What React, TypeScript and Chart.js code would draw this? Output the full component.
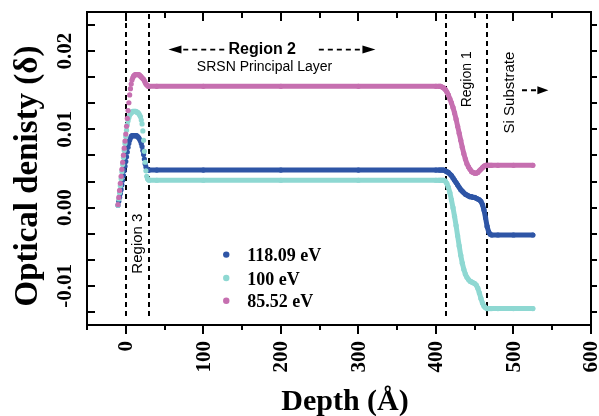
import React, { useEffect, useRef } from "react";
import { Chart, registerables } from "chart.js";

Chart.register(...registerables);

// Depth sampling (Å)
const DEPTH = [
  -10, -9, -8, -7, -6, -5, -4, -3, -2, -1, 0, 1, 2, 3, 4, 5, 6, 7, 8, 9, 10,
  11, 12, 13, 14, 15, 16, 17, 18, 19, 20, 21, 22, 23, 24, 25, 26, 27, 28, 29, 30,
  40, 100, 200, 300, 400,
  404, 406, 408, 410, 412, 414, 416, 418, 420, 422, 424, 426, 428, 430, 432, 434, 436, 438,
  440, 442, 444, 446, 448, 450, 452, 454, 456, 458, 460, 462, 464, 466, 468, 470, 472,
  480, 500, 525,
];

// Optical density, 118.09 eV
const E118 = [
  0.0003, 0.0008, 0.0013, 0.0018, 0.0023, 0.0029, 0.0035, 0.0041, 0.0047, 0.0053, 0.0059,
  0.0065, 0.0071, 0.0077, 0.0082, 0.0086, 0.0089, 0.0091, 0.0092, 0.0092, 0.0092,
  0.0092, 0.0092, 0.0092, 0.0092, 0.0091, 0.0090, 0.0089, 0.0087, 0.0085, 0.0082,
  0.0078, 0.0073, 0.0068, 0.0062, 0.0056, 0.0052, 0.0049, 0.0048, 0.0048, 0.0048,
  0.0048, 0.0048, 0.0048, 0.0048, 0.0048,
  0.0048, 0.0048, 0.0048, 0.0048, 0.0047, 0.0046, 0.0045, 0.0043, 0.0041, 0.0038,
  0.0035, 0.0032, 0.0029, 0.0026, 0.0023, 0.0021, 0.0019, 0.0017,
  0.0016, 0.0015, 0.0014, 0.0014, 0.0013, 0.0013, 0.0012, 0.0011, 0.0010, 0.0008,
  0.0004, -0.0003, -0.0013, -0.0024, -0.0031, -0.0034, -0.0035,
  -0.0035, -0.0035, -0.0035,
];

// Optical density, 100 eV
const E100 = [
  0.0003, 0.0011, 0.0019, 0.0028, 0.0037, 0.0046, 0.0055, 0.0064, 0.0073, 0.0082, 0.0091,
  0.0099, 0.0106, 0.0111, 0.0115, 0.0118, 0.0120, 0.0121, 0.0122, 0.0123, 0.0123,
  0.0123, 0.0123, 0.0123, 0.0122, 0.0122, 0.0121, 0.0120, 0.0118, 0.0116, 0.0112,
  0.0107, 0.0098, 0.0086, 0.0072, 0.0058, 0.0047, 0.0040, 0.0037, 0.0036, 0.0035,
  0.0035, 0.0035, 0.0035, 0.0035, 0.0035,
  0.0035, 0.0035, 0.0035, 0.0035, 0.0034, 0.0031, 0.0026, 0.0019, 0.0010, 0.0000,
  -0.0011, -0.0023, -0.0036, -0.0049, -0.0061, -0.0071, -0.0079, -0.0085,
  -0.0089, -0.0092, -0.0094, -0.0095, -0.0096, -0.0097, -0.0099, -0.0103, -0.0109, -0.0116,
  -0.0122, -0.0126, -0.0128, -0.0129, -0.0129, -0.0129, -0.0129,
  -0.0129, -0.0129, -0.0129,
];

// Optical density, 85.52 eV
const E85 = [
  0.0004, 0.0013, 0.0022, 0.0031, 0.0040, 0.0049, 0.0058, 0.0067, 0.0076, 0.0085, 0.0094,
  0.0104, 0.0114, 0.0124, 0.0134, 0.0144, 0.0152, 0.0158, 0.0163, 0.0166, 0.0168,
  0.0169, 0.0170, 0.0170, 0.0170, 0.0170, 0.0170, 0.0170, 0.0169, 0.0168, 0.0167,
  0.0166, 0.0165, 0.0164, 0.0162, 0.0160, 0.0158, 0.0157, 0.0156, 0.0155, 0.0155,
  0.0155, 0.0155, 0.0155, 0.0155, 0.0155,
  0.0155, 0.0155, 0.0154, 0.0153, 0.0151, 0.0148, 0.0144, 0.0139, 0.0134, 0.0128,
  0.0121, 0.0113, 0.0104, 0.0095, 0.0086, 0.0077, 0.0069, 0.0062,
  0.0056, 0.0052, 0.0049, 0.0046, 0.0045, 0.0044, 0.0044, 0.0045, 0.0047, 0.0049,
  0.0051, 0.0053, 0.0054, 0.0054, 0.0054, 0.0054, 0.0054,
  0.0054, 0.0054, 0.0054,
];

const SERIES_LABELS = ["118.09 eV", "100 eV", "85.52 eV"];
const SERIES_COLORS = ["#2E55A6", "#8ED8D2", "#C66FB0"];

const X_MAJOR_TICKS = [0, 100, 200, 300, 400, 500, 600];
const X_MINOR_TICKS = [-50, 50, 150, 250, 350, 450, 550];
const Y_LABEL_TICKS = [-0.01, 0, 0.01, 0.02];
const Y_TICK_LABELS = ["-0.01", "0.00", "0.01", "0.02"];
const Y_MINOR_TICKS = [-0.013333, -0.006667, -0.003333, 0.003333, 0.006667, 0.013333, 0.016667, 0.023333];

const REGION_LINES = [0, 30, 413, 466];

const X_TITLE = "Depth (Å)";
const Y_TITLE = "Optical denisty (δ)";
const REGION2 = "Region 2";
const REGION2_SUB = "SRSN Principal Layer";
const REGION1 = "Region 1";
const REGION3 = "Region 3";
const SUBSTRATE = "Si Substrate";

const SERIF = "'Liberation Serif', 'Times New Roman', serif";
const SANS = "'Liberation Sans', Arial, sans-serif";

function arrowHead(ctx: CanvasRenderingContext2D, tipX: number, y: number, dir: number, len: number, half: number) {
  ctx.beginPath();
  ctx.moveTo(tipX, y);
  ctx.lineTo(tipX - dir * len, y - half);
  ctx.lineTo(tipX - dir * len, y + half);
  ctx.closePath();
  ctx.fill();
}

function dashedArrow(ctx: CanvasRenderingContext2D, tailX: number, tipX: number, y: number, len: number, half: number) {
  const dir = tipX > tailX ? 1 : -1;
  ctx.save();
  ctx.setLineDash([5, 4]);
  ctx.lineWidth = 1.8;
  ctx.beginPath();
  ctx.moveTo(tailX, y);
  ctx.lineTo(tipX - dir * len, y);
  ctx.stroke();
  ctx.restore();
  arrowHead(ctx, tipX, y, dir, len, half);
}

const decorPlugin = {
  id: "decor",
  beforeDatasetsDraw(chart: any) {
    const { ctx, chartArea: a, scales } = chart;
    const x = scales.x;
    ctx.save();
    ctx.strokeStyle = "#000";
    ctx.lineWidth = 2;
    ctx.setLineDash([5, 4]);
    for (const v of REGION_LINES) {
      const px = Math.round(x.getPixelForValue(v));
      ctx.beginPath();
      ctx.moveTo(px, a.top + 2);
      ctx.lineTo(px, a.bottom - 6);
      ctx.stroke();
    }
    ctx.restore();
  },
  afterDraw(chart: any) {
    const { ctx, chartArea: a, scales } = chart;
    const x = scales.x;
    const y = scales.y;
    ctx.save();
    ctx.strokeStyle = "#000";
    ctx.fillStyle = "#000";
    ctx.lineWidth = 2;
    ctx.setLineDash([]);
    // frame
    ctx.strokeRect(a.left, a.top, a.right - a.left, a.bottom - a.top);
    // x ticks
    const xt = (v: number, major: boolean) => {
      const px = Math.round(x.getPixelForValue(v));
      ctx.beginPath();
      ctx.moveTo(px, a.bottom);
      ctx.lineTo(px, a.bottom + (major ? 9 : 5));
      ctx.moveTo(px, a.top);
      ctx.lineTo(px, a.top + (major ? 9 : 6));
      ctx.stroke();
    };
    X_MAJOR_TICKS.forEach((v) => xt(v, true));
    X_MINOR_TICKS.forEach((v) => xt(v, false));
    // y ticks
    [...Y_LABEL_TICKS, ...Y_MINOR_TICKS].forEach((v) => {
      const py = Math.round(y.getPixelForValue(v));
      ctx.beginPath();
      ctx.moveTo(a.left, py);
      ctx.lineTo(a.left + 8, py);
      ctx.moveTo(a.right, py);
      ctx.lineTo(a.right + 6, py);
      ctx.stroke();
    });
    // x tick labels (rotated)
    ctx.font = `bold 21px ${SERIF}`;
    X_MAJOR_TICKS.forEach((v) => {
      const px = x.getPixelForValue(v);
      ctx.save();
      ctx.translate(px + 1, a.bottom + 16);
      ctx.rotate(-Math.PI / 2);
      ctx.textAlign = "right";
      ctx.textBaseline = "middle";
      ctx.fillText(String(v), 0, 0);
      ctx.restore();
    });
    // y tick labels (rotated)
    Y_LABEL_TICKS.forEach((v, i) => {
      const py = y.getPixelForValue(v);
      ctx.save();
      ctx.translate(a.left - 16, py);
      ctx.rotate(-Math.PI / 2);
      ctx.textAlign = "center";
      ctx.textBaseline = "alphabetic";
      ctx.fillText(Y_TICK_LABELS[i], 0, 0);
      ctx.restore();
    });
    // axis titles
    ctx.font = `bold 30px ${SERIF}`;
    ctx.textAlign = "center";
    ctx.textBaseline = "alphabetic";
    ctx.fillText(X_TITLE, 345, 410);
    ctx.save();
    ctx.font = `bold 33px ${SERIF}`;
    ctx.translate(37, 176);
    ctx.rotate(-Math.PI / 2);
    ctx.fillText(Y_TITLE, 0, 0);
    ctx.restore();

    // Region 2 annotation
    ctx.font = `bold 16px ${SANS}`;
    ctx.textBaseline = "middle";
    ctx.fillText(REGION2, x.getPixelForValue(176), y.getPixelForValue(0.0202));
    ctx.font = `14px ${SANS}`;
    ctx.fillText(REGION2_SUB, x.getPixelForValue(179), y.getPixelForValue(0.0179));
    const ay = y.getPixelForValue(0.0202);
    dashedArrow(ctx, x.getPixelForValue(127), x.getPixelForValue(55), ay, 13, 4);
    dashedArrow(ctx, x.getPixelForValue(249), x.getPixelForValue(322), ay, 13, 4);

    // rotated region labels
    const rotText = (t: string, vx: number, vy: number, font: string) => {
      ctx.save();
      ctx.font = font;
      ctx.translate(x.getPixelForValue(vx), y.getPixelForValue(vy));
      ctx.rotate(-Math.PI / 2);
      ctx.textAlign = "center";
      ctx.textBaseline = "middle";
      ctx.fillText(t, 0, 0);
      ctx.restore();
    };
    rotText(REGION3, 15, -0.0046, `15px ${SANS}`);
    rotText(REGION1, 440, 0.0164, `14px ${SANS}`);
    rotText(SUBSTRATE, 495, 0.0147, `15px ${SANS}`);
    const sy = y.getPixelForValue(0.015);
    dashedArrow(ctx, x.getPixelForValue(511), x.getPixelForValue(545), sy, 11, 4);

    // legend
    const rows = [-0.006, -0.009, -0.0119];
    chart.data.datasets.forEach((ds: any, i: number) => {
      const py = y.getPixelForValue(rows[i]);
      const px = x.getPixelForValue(129.6);
      ctx.fillStyle = ds.backgroundColor;
      ctx.beginPath();
      ctx.arc(px, py, 3.2, 0, Math.PI * 2);
      ctx.fill();
      ctx.fillStyle = "#000";
      ctx.font = `bold 18px ${SERIF}`;
      ctx.textAlign = "left";
      ctx.textBaseline = "alphabetic";
      ctx.fillText(ds.label, x.getPixelForValue(156.7), py + 6.5);
    });
    ctx.restore();
  },
};

export default function App() {
  const ref = useRef<HTMLCanvasElement | null>(null);
  useEffect(() => {
    if (!ref.current) return;
    const series = [E118, E100, E85];
    const datasets = series.map((vals, i) => {
      const color = SERIES_COLORS[i];
      return {
        label: SERIES_LABELS[i],
        data: DEPTH.map((d, j) => ({ x: d, y: vals[j] })),
        showLine: true,
        borderColor: color,
        backgroundColor: color,
        pointBackgroundColor: color,
        pointBorderWidth: 0,
        pointRadius: 2.6,
        pointHoverRadius: 2.6,
        borderWidth: 5,
        borderCapStyle: "round",
        borderJoinStyle: "round",
        tension: 0,
        order: 2 - i,
        segment: {
          borderColor: (c: any) => (c.p0.parsed.x < 29 ? "transparent" : color),
        },
      };
    });
    const chart = new Chart(ref.current, {
      type: "scatter",
      data: { datasets: datasets as any },
      options: {
        responsive: false,
        animation: false,
        devicePixelRatio: 1,
        layout: { padding: { left: 87, top: 12, right: 8, bottom: 91 } },
        scales: {
          x: { type: "linear", min: -50, max: 600, display: false },
          y: { type: "linear", min: -0.015, max: 0.025, display: false },
        },
        plugins: { legend: { display: false }, tooltip: { enabled: false } },
        events: [],
      },
      plugins: [decorPlugin],
    });
    return () => chart.destroy();
  }, []);
  return (
    <canvas
      ref={ref}
      width={599}
      height={416}
      style={{ position: "fixed", left: 0, top: 0, width: 599, height: 416, background: "#fff" }}
    />
  );
}
